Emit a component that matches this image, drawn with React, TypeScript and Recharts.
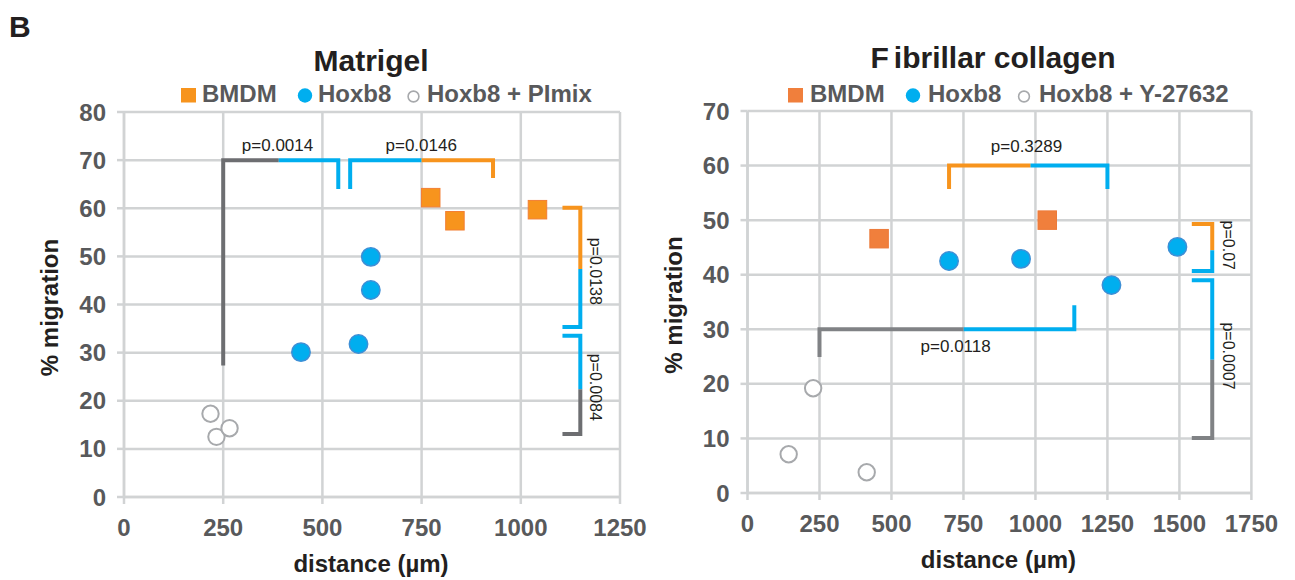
import React from 'react';
import { ScatterChart, Scatter, XAxis, YAxis, CartesianGrid, Legend, Label } from 'recharts';

const FONT = '"Liberation Sans", Arial, Helvetica, sans-serif';

// ---------- Matrigel (left panel) ----------
const matrigelXTicks = [0, 250, 500, 750, 1000, 1250];
const matrigelYTicks = [0, 10, 20, 30, 40, 50, 60, 70, 80];
const matrigelBMDM = [
  { x: 773, y: 62.2 },
  { x: 834, y: 57.4 },
  { x: 1042, y: 59.7 },
];
const matrigelHoxb8 = [
  { x: 622, y: 49.9 },
  { x: 622, y: 43.0 },
  { x: 446, y: 30.1 },
  { x: 591, y: 31.8 },
];
const matrigelPImix = [
  { x: 218, y: 17.3 },
  { x: 233, y: 12.5 },
  { x: 266, y: 14.3 },
];
const matrigelLegend = ['BMDM', 'Hoxb8', 'Hoxb8 + PImix'];
const matrigelBrackets = [
  { g: 'inhib', pts: [[250, 27.3], [250, 70], [390, 70]] },
  { g: 'Hoxb8', pts: [[390, 70], [540, 70], [540, 64]] },
  { g: 'Hoxb8', pts: [[570, 64], [570, 70], [750, 70]] },
  { g: 'BMDM', pts: [[750, 70], [930, 70], [930, 66.3]] },
  { g: 'BMDM', pts: [[1105, 60.1], [1150, 60.1], [1150, 47.4]] },
  { g: 'Hoxb8', pts: [[1150, 47.4], [1150, 35.3], [1105, 35.3]] },
  { g: 'Hoxb8', pts: [[1105, 33.5], [1150, 33.5], [1150, 22.4]] },
  { g: 'inhib', pts: [[1150, 22.4], [1150, 13.1], [1105, 13.1]] },
];
const matrigelPValues = [
  { x: 387, y: 71.8, text: 'p=0.0014', vertical: false },
  { x: 749, y: 71.8, text: 'p=0.0146', vertical: false },
  { x: 1175, y: 46.9, text: 'p=0.0138', vertical: true },
  { x: 1175, y: 22.8, text: 'p=0.0084', vertical: true },
];

// ---------- Fibrillar collagen (right panel) ----------
const fibrillarXTicks = [0, 250, 500, 750, 1000, 1250, 1500, 1750];
const fibrillarYTicks = [0, 10, 20, 30, 40, 50, 60, 70];
const fibrillarBMDM = [
  { x: 457, y: 46.6 },
  { x: 1041, y: 50.0 },
];
const fibrillarHoxb8 = [
  { x: 700, y: 42.5 },
  { x: 950, y: 42.9 },
  { x: 1264, y: 38.1 },
  { x: 1493, y: 45.1 },
];
const fibrillarY27632 = [
  { x: 228, y: 19.2 },
  { x: 143, y: 7.1 },
  { x: 414, y: 3.8 },
];
const fibrillarLegend = ['BMDM', 'Hoxb8', 'Hoxb8 + Y-27632'];
const fibrillarBrackets = [
  { g: 'BMDM', pts: [[700, 55.7], [700, 60], [983, 60]] },
  { g: 'Hoxb8', pts: [[983, 60], [1250, 60], [1250, 55.7]] },
  { g: 'inhib', pts: [[250, 24.9], [250, 30], [751, 30]] },
  { g: 'Hoxb8', pts: [[751, 30], [1135, 30], [1135, 34.4]] },
  { g: 'BMDM', pts: [[1543, 49.3], [1614, 49.3], [1614, 44.5]] },
  { g: 'Hoxb8', pts: [[1614, 44.5], [1614, 40.7], [1543, 40.7]] },
  { g: 'Hoxb8', pts: [[1543, 39.0], [1614, 39.0], [1614, 24.4]] },
  { g: 'inhib', pts: [[1614, 24.4], [1614, 10.1], [1543, 10.1]] },
];
const fibrillarPValues = [
  { x: 969, y: 62.5, text: 'p=0.3289', vertical: false },
  { x: 723, y: 25.9, text: 'p=0.0118', vertical: false },
  { x: 1651, y: 45.4, text: 'p=0.07', vertical: true },
  { x: 1651, y: 25.1, text: 'p=0.0007', vertical: true },
];

// ---------- styles ----------
const GRID = '#d1d3d4';
const TICK_COLOR = '#58595b';
const DARK = '#231f20';
const BLUE = '#00aeef';
const BRACKET_ORANGE = '#f7941d';

const squareShape = (fill: string, stroke: string) => (p: any) => (
  <rect x={p.cx - 9.25} y={p.cy - 9.25} width={18.5} height={18.5} fill={fill} stroke={stroke} strokeWidth={1} />
);
const filledCircle = (p: any) => (
  <circle cx={p.cx} cy={p.cy} r={9.2} fill={BLUE} stroke="#3d8fd6" strokeWidth={1.5} />
);
const openCircle = (p: any) => (
  <circle cx={p.cx} cy={p.cy} r={8.2} fill="#ffffff" stroke="#a7a9ac" strokeWidth={2} />
);
const noShape = () => <g />;
const pLabelShape = (p: any) => {
  const d = p.payload;
  if (d.vertical) {
    return (
      <text
        transform={`translate(${p.cx},${p.cy}) rotate(90)`}
        x={0}
        y={0}
        textAnchor="middle"
        fontSize={16}
        fontFamily={FONT}
        fill={DARK}
      >
        {d.text}
      </text>
    );
  }
  return (
    <text x={p.cx} y={p.cy} textAnchor="middle" fontSize={17} fontFamily={FONT} fill={DARK}>
      {d.text}
    </text>
  );
};

type PanelProps = {
  width: number;
  margin: { top: number; right: number; bottom: number; left: number };
  xMax: number;
  xTicks: number[];
  yMax: number;
  yTicks: number[];
  bmdm: { x: number; y: number }[];
  bmdmFill: string;
  bmdmStroke: string;
  hoxb8: { x: number; y: number }[];
  inhib: { x: number; y: number }[];
  brackets: { g: string; pts: number[][] }[];
  inhibColor: string;
  pValues: { x: number; y: number; text: string; vertical: boolean }[];
  legendNames: string[];
  legendX: number[];
  legendSquareColor: string;
};

function Panel(props: PanelProps) {
  const tickStyle = { fontSize: 24, fontWeight: 700, fill: TICK_COLOR, fontFamily: FONT };
  const colorOf = (g: string) => (g === 'BMDM' ? BRACKET_ORANGE : g === 'Hoxb8' ? BLUE : props.inhibColor);
  const lx = props.legendX;
  const renderLegend = () => (
    <svg width={props.width} height={34} style={{ display: 'block', overflow: 'visible' }}>
      <rect x={lx[0]} y={10} width={15} height={14.5} fill={props.legendSquareColor} />
      <text x={lx[1]} y={24} fontSize={24} fontWeight={700} fill={TICK_COLOR} fontFamily={FONT}>
        {props.legendNames[0]}
      </text>
      <circle cx={lx[2]} cy={17.5} r={7.2} fill={BLUE} />
      <text x={lx[3]} y={24} fontSize={24} fontWeight={700} fill={TICK_COLOR} fontFamily={FONT}>
        {props.legendNames[1]}
      </text>
      <circle cx={lx[4]} cy={18.5} r={5.4} fill="#ffffff" stroke="#a7a9ac" strokeWidth={1.6} />
      <text x={lx[5]} y={24} fontSize={24} fontWeight={700} fill={TICK_COLOR} fontFamily={FONT}>
        {props.legendNames[2]}
      </text>
    </svg>
  );
  return (
    <ScatterChart width={props.width} height={580} margin={props.margin}>
      <CartesianGrid stroke={GRID} strokeWidth={2.5} />
      <XAxis
        type="number"
        dataKey="x"
        domain={[0, props.xMax]}
        ticks={props.xTicks}
        interval={0}
        allowDataOverflow
        height={40}
        tickSize={7}
        tickMargin={15}
        tick={tickStyle}
        tickLine={{ stroke: GRID, strokeWidth: 2.5 }}
        axisLine={{ stroke: GRID, strokeWidth: 2.5 }}
      >
        <Label
          content={(lp: any) => {
            const vb = lp.viewBox;
            return (
              <text
                x={vb.x + vb.width / 2 - 1}
                y={vb.y + 75}
                textAnchor="middle"
                fontSize={24}
                fontWeight={700}
                fill={DARK}
                fontFamily={FONT}
              >
                distance (µm)
              </text>
            );
          }}
        />
      </XAxis>
      <YAxis
        type="number"
        dataKey="y"
        domain={[0, props.yMax]}
        ticks={props.yTicks}
        interval={0}
        allowDataOverflow
        width={60}
        tickSize={7}
        tickMargin={11}
        tick={tickStyle}
        tickLine={{ stroke: GRID, strokeWidth: 2.5 }}
        axisLine={{ stroke: GRID, strokeWidth: 2.5 }}
      >
        <Label
          content={(lp: any) => {
            const vb = lp.viewBox;
            const cx = vb.x - 6;
            const cy = vb.y + vb.height / 2 + 3;
            return (
              <text
                transform={`translate(${cx},${cy}) rotate(-90)`}
                x={0}
                y={0}
                textAnchor="middle"
                fontSize={24}
                fontWeight={700}
                fill={DARK}
                fontFamily={FONT}
              >
                % migration
              </text>
            );
          }}
        />
      </YAxis>
      <Legend content={renderLegend} verticalAlign="middle" wrapperStyle={{ left: 0, top: 78, width: props.width, height: 34 }} />
      {props.brackets.map((b, i) => (
        <Scatter
          key={'br' + i}
          data={b.pts.map((pt) => ({ x: pt[0], y: pt[1] }))}
          line={{ stroke: colorOf(b.g), strokeWidth: 4 }}
          shape={noShape}
          fill="none"
          isAnimationActive={false}
          legendType="none"
        />
      ))}
      <Scatter data={props.pValues} shape={pLabelShape} isAnimationActive={false} legendType="none" />
      <Scatter name="inhib" data={props.inhib} shape={openCircle} isAnimationActive={false} />
      <Scatter name="Hoxb8" data={props.hoxb8} shape={filledCircle} isAnimationActive={false} />
      <Scatter name="BMDM" data={props.bmdm} shape={squareShape(props.bmdmFill, props.bmdmStroke)} isAnimationActive={false} />
    </ScatterChart>
  );
}

export default function App() {
  return (
    <div style={{ position: 'absolute', left: 0, top: 0, width: 1295, height: 580, background: '#ffffff' }}>
      <div style={{ position: 'absolute', left: 0, top: 0 }}>
        <Panel
          width={650}
          margin={{ top: 112, right: 30, bottom: 43, left: 64 }}
          xMax={1250}
          xTicks={matrigelXTicks}
          yMax={80}
          yTicks={matrigelYTicks}
          bmdm={matrigelBMDM}
          bmdmFill="#f7941d"
          bmdmStroke="#f27f35"
          hoxb8={matrigelHoxb8}
          inhib={matrigelPImix}
          brackets={matrigelBrackets}
          inhibColor="#6d6e71"
          pValues={matrigelPValues}
          legendNames={matrigelLegend}
          legendX={[181, 202, 305, 318, 413.5, 427]}
          legendSquareColor="#f7941d"
        />
      </div>
      <div style={{ position: 'absolute', left: 650, top: 0 }}>
        <Panel
          width={645}
          margin={{ top: 111, right: 43.6, bottom: 47, left: 37.5 }}
          xMax={1750}
          xTicks={fibrillarXTicks}
          yMax={70}
          yTicks={fibrillarYTicks}
          bmdm={fibrillarBMDM}
          bmdmFill="#f07f3c"
          bmdmStroke="#ec7a3a"
          hoxb8={fibrillarHoxb8}
          inhib={fibrillarY27632}
          brackets={fibrillarBrackets}
          inhibColor="#808285"
          pValues={fibrillarPValues}
          legendNames={fibrillarLegend}
          legendX={[138, 160, 263, 278, 374, 389]}
          legendSquareColor="#f07f3c"
        />
      </div>
      <svg
        width={1295}
        height={580}
        style={{ position: 'absolute', left: 0, top: 0, pointerEvents: 'none' }}
      >
        <text x={9} y={37} fontSize={30} fontWeight={700} fill={DARK} fontFamily={FONT}>
          B
        </text>
        <text x={371} y={71} textAnchor="middle" fontSize={30} fontWeight={700} fill={DARK} fontFamily={FONT}>
          Matrigel
        </text>
        <text x={993} y={68} textAnchor="middle" fontSize={30} fontWeight={700} fill={DARK} fontFamily={FONT}>
          <tspan>F</tspan>
          <tspan dx={5}>ibrillar collagen</tspan>
        </text>
      </svg>
    </div>
  );
}
